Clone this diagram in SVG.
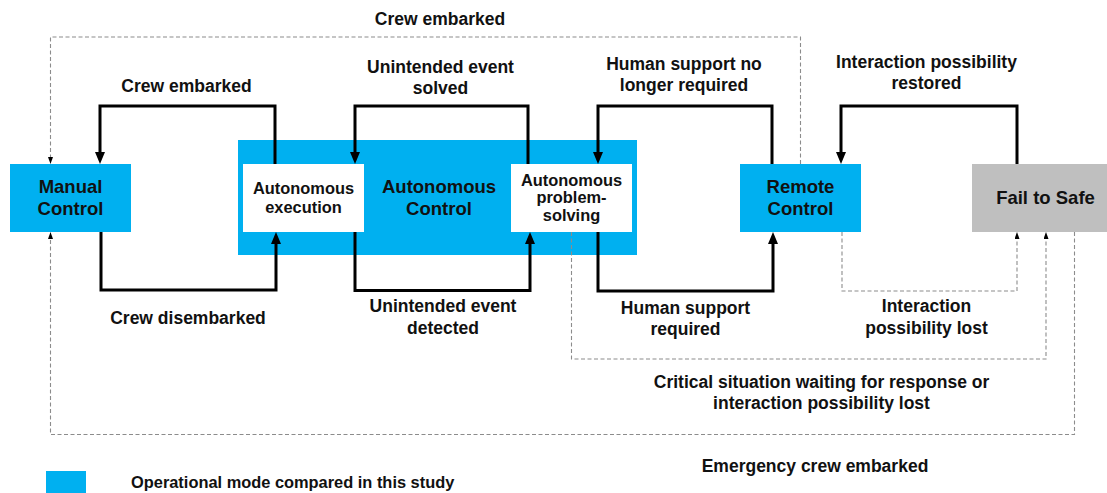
<svg xmlns="http://www.w3.org/2000/svg" width="1107" height="493" viewBox="0 0 1107 493">
<style>
text{font-family:"Liberation Sans",Arial,sans-serif;font-weight:bold;fill:#111;text-anchor:middle}
.lbl{font-size:17.5px}
.big{font-size:18.5px}
.sm{font-size:16.4px}
.blue{fill:#00b0f0}
.white{fill:#fff}
.gray{fill:#bfbfbf}
.solid{fill:none;stroke:#000;stroke-width:3;marker-end:url(#ah)}
.dash{fill:none;stroke:#8c8c8c;stroke-width:1.1;stroke-dasharray:4,2.5;marker-end:url(#ahs)}
</style>
<defs>
<marker id="ah" markerUnits="userSpaceOnUse" viewBox="0 0 12 10" markerWidth="12" markerHeight="10" refX="6" refY="5" orient="auto">
<path d="M0,0 L12,5 L0,10 z" fill="#000"/>
</marker>
<marker id="ahs" markerUnits="userSpaceOnUse" viewBox="0 0 7 5" markerWidth="7" markerHeight="5" refX="3" refY="2.5" orient="auto">
<path d="M0,0 L7,2.5 L0,5 z" fill="#000"/>
</marker>
</defs>
<rect width="1107" height="493" fill="#fff"/>
<g id="autonomous-control">
<rect class="blue" x="238" y="140" width="399" height="115"/>
<text class="big" x="439" y="192.5">Autonomous</text>
<text class="big" x="439" y="214.5">Control</text>
</g>
<g id="manual-control">
<rect class="blue" x="10" y="164" width="121" height="68"/>
<text class="big" x="70.5" y="192.5">Manual</text>
<text class="big" x="70.5" y="214.5">Control</text>
</g>
<g id="autonomous-execution">
<rect class="white" x="243" y="164" width="121" height="68"/>
<text class="sm" x="303.5" y="193.5">Autonomous</text>
<text class="sm" x="303.5" y="213">execution</text>
</g>
<g id="autonomous-problem-solving">
<rect class="white" x="511" y="164" width="121" height="68"/>
<text class="sm" x="571.5" y="185.7">Autonomous</text>
<text class="sm" x="571.5" y="203.4">problem-</text>
<text class="sm" x="571.5" y="221">solving</text>
</g>
<g id="remote-control">
<rect class="blue" x="740" y="164" width="121" height="68"/>
<text class="big" x="800.5" y="192.5">Remote</text>
<text class="big" x="800.5" y="214.5">Control</text>
</g>
<g id="fail-to-safe">
<rect class="gray" x="972" y="164" width="135" height="68"/>
<text class="big" x="1045.5" y="203.8">Fail to Safe</text>
</g>
<g id="connectors">
<path class="solid" d="M275,164 V106 H100 V158"/>
<path class="solid" d="M101,232 V290 H276 V238"/>
<path class="solid" d="M528,164 V106 H355 V158"/>
<path class="solid" d="M355,232 V290.5 H530 V238"/>
<path class="solid" d="M772,164 V106 H598 V158"/>
<path class="solid" d="M598,232 V291 H773 V238"/>
<path class="solid" d="M1017,164 V106 H841 V158"/>
<path class="dash" d="M800.5,164 V37 H50.5 V160"/>
<path class="dash" d="M1074.5,232 V434.5 H50.5 V236"/>
<path class="dash" d="M571.5,232 V359 H1046 V236"/>
<path class="dash" d="M842,232 V291 H1017 V236"/>
<text class="lbl" x="440" y="25">Crew embarked</text>
<text class="lbl" x="186.5" y="92">Crew embarked</text>
<text class="lbl" x="440.5" y="73">Unintended event</text>
<text class="lbl" x="440.5" y="94">solved</text>
<text class="lbl" x="684" y="70">Human support no</text>
<text class="lbl" x="684" y="91">longer required</text>
<text class="lbl" x="926.5" y="68">Interaction possibility</text>
<text class="lbl" x="926.5" y="89">restored</text>
<text class="lbl" x="188" y="324">Crew disembarked</text>
<text class="lbl" x="443" y="312">Unintended event</text>
<text class="lbl" x="443" y="334">detected</text>
<text class="lbl" x="685.5" y="314">Human support</text>
<text class="lbl" x="685.5" y="335">required</text>
<text class="lbl" x="926.5" y="312">Interaction</text>
<text class="lbl" x="926.5" y="334">possibility lost</text>
<text class="lbl" x="821.5" y="388">Critical situation waiting for response or</text>
<text class="lbl" x="821.5" y="409">interaction possibility lost</text>
<text class="lbl" x="815" y="472">Emergency crew embarked</text>
</g>
<g id="legend">
<rect class="blue" x="46" y="471" width="40" height="22"/>
<text class="sm" x="131" y="487.5" style="text-anchor:start">Operational mode compared in this study</text>
</g>
</svg>
